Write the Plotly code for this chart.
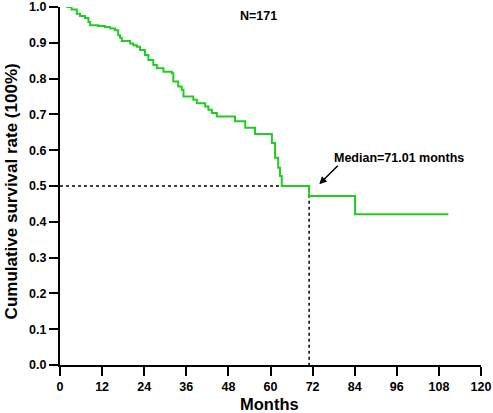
import plotly.graph_objects as go

# Kaplan-Meier step data (months, cumulative survival)
months = [1.8, 3.3, 4.8, 5.7, 7.1, 8.1, 8.6, 10.9, 12.8, 14.3, 15.7, 16.6, 17.1, 17.6,
          20.0, 20.9, 21.9, 22.8, 24.2, 25.2, 26.6, 27.6, 29.5, 31.9, 32.3, 33.7, 34.7,
          35.2, 38.0, 39.0, 41.4, 42.3, 43.3, 44.7, 49.9, 52.8, 55.6, 60.4, 61.3, 62.2,
          62.7, 63.2, 71.01, 84.1, 110.7]
survival = [1.0, 0.993, 0.981, 0.975, 0.969, 0.958, 0.949, 0.947, 0.944, 0.940, 0.935,
            0.921, 0.914, 0.905, 0.898, 0.893, 0.889, 0.880, 0.866, 0.852, 0.838, 0.829,
            0.819, 0.815, 0.792, 0.778, 0.769, 0.750, 0.741, 0.731, 0.722, 0.713, 0.704,
            0.694, 0.681, 0.663, 0.645, 0.620, 0.579, 0.551, 0.528, 0.500, 0.472, 0.421,
            0.421]

median_month = 71.01
median_surv = 0.5
x_ticks = [0, 12, 24, 36, 48, 60, 72, 84, 96, 108, 120]
y_ticks = [0.0, 0.1, 0.2, 0.3, 0.4, 0.5, 0.6, 0.7, 0.8, 0.9, 1.0]

font_family = "Liberation Sans, Arial, sans-serif"

fig = go.Figure()
# dashed median guide lines
fig.add_trace(go.Scatter(x=[0, median_month, median_month], y=[median_surv, median_surv, 0],
                         mode="lines", line=dict(color="black", width=1.5, dash="3px,3px"),
                         showlegend=False, hoverinfo="skip"))
fig.add_trace(go.Scatter(x=months, y=survival, mode="lines", line_shape="hv",
                         line=dict(color="#22cc22", width=2), showlegend=False))

fig.add_annotation(x=73.9, y=0.505, ax=20, ay=-20, xref="x", yref="y", showarrow=True,
                   arrowhead=2, arrowsize=1, arrowwidth=1.5, arrowcolor="black", text="")
fig.add_annotation(x=77.5, y=0.578, xref="x", yref="y", xanchor="left", yanchor="middle",
                   showarrow=False, text="<b>Median=71.01 months</b>",
                   font=dict(size=12.5, color="black", family=font_family))
fig.add_annotation(x=0.472, y=0.975, xref="paper", yref="paper", xanchor="center",
                   yanchor="middle", showarrow=False, text="<b>N=171</b>",
                   font=dict(size=12.5, color="black", family=font_family))
# axis titles
fig.add_annotation(x=-0.1155, y=0.486, xref="paper", yref="paper", xanchor="center",
                   yanchor="middle", textangle=-90, showarrow=False,
                   text="<b>Cumulative survival rate (100%)</b>",
                   font=dict(size=17, color="black", family=font_family))
fig.add_annotation(x=0.498, y=-0.108, xref="paper", yref="paper", xanchor="center",
                   yanchor="middle", showarrow=False, text="<b>Months</b>",
                   font=dict(size=16.5, color="black", family=font_family))

axis_common = dict(showline=True, linecolor="black", linewidth=2, ticks="outside",
                   ticklen=9, tickwidth=2, tickcolor="black", showgrid=False,
                   zeroline=False, automargin=False, ticklabeloverflow="allow",
                   tickfont=dict(size=12.5, color="black", family=font_family))

fig.update_xaxes(range=[0, 120], tickvals=x_ticks, ticktext=[f"<b>{v}</b>" for v in x_ticks],
                 **axis_common)
fig.update_yaxes(range=[0, 1.0], tickvals=y_ticks, ticktext=[f"<b>{v:.1f}</b>" for v in y_ticks],
                 **axis_common)

fig.update_layout(width=493, height=413, margin=dict(l=60, r=12, t=7, b=48, autoexpand=False),
                  plot_bgcolor="white", paper_bgcolor="white",
                  font=dict(family=font_family, color="black"))
fig.write_html("out.html", config={"displayModeBar": False},
               post_script="document.body.style.margin='0';document.body.style.overflow='hidden';")
